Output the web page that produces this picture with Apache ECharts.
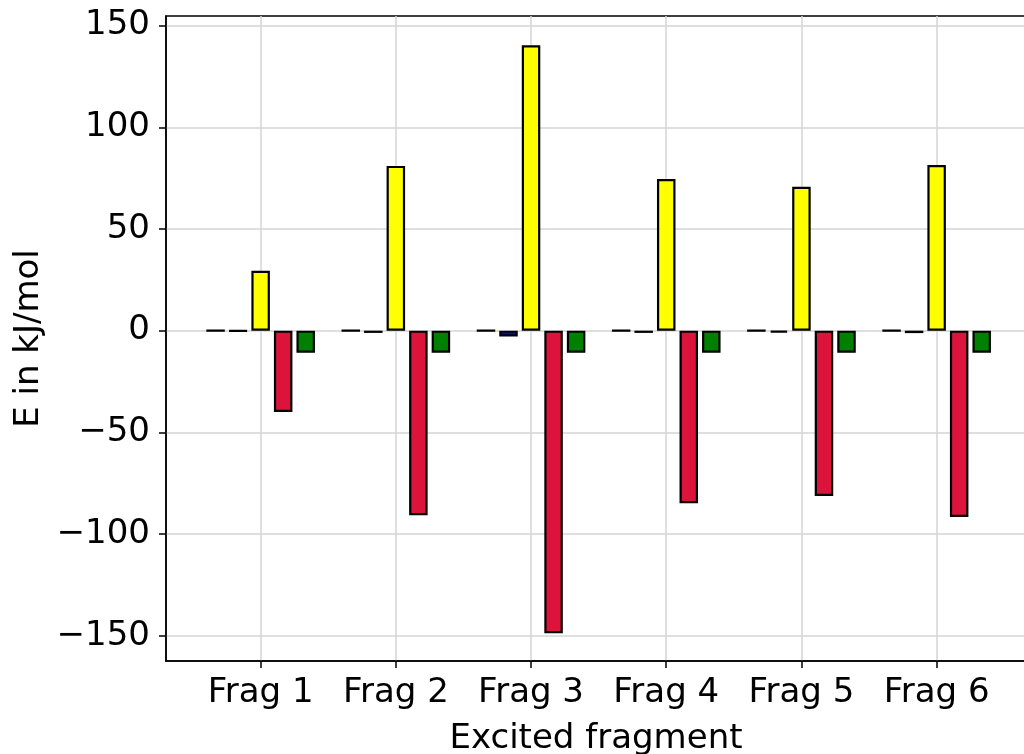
<!DOCTYPE html>
<html>
<head>
<meta charset="utf-8">
<script src="https://cdn.jsdelivr.net/npm/echarts@6/dist/echarts.min.js"></script>
<style>
  html, body { margin: 0; padding: 0; background: #ffffff; }
  #chart { width: 1024px; height: 754px; }
</style>
</head>
<body>
<div id="chart"></div>
<script>
// Energy contributions (kJ/mol) per excited fragment
const fragments = ['Frag 1', 'Frag 2', 'Frag 3', 'Frag 4', 'Frag 5', 'Frag 6'];
const termA = [0, 0, 0, 0, 0, 0];
const termB = [-0.2, -1.1, -2.9, -1.1, -1.0, -1.2];
const termC = [29.4, 81.0, 140.3, 74.6, 70.7, 81.4];
const termD = [-40.0, -90.7, -148.7, -84.8, -81.3, -91.6];
const termE = [-10.8, -10.8, -10.8, -10.8, -10.8, -10.8];
const yTicks = [-150, -100, -50, 0, 50, 100, 150];

const seriesValues = [termA, termB, termC, termD, termE];
const seriesColors = ['#808080', '#0000ff', '#ffff00', '#dc143c', '#008000'];
const groupStep = 1 / 6;      // spacing between bars inside a group (axis units)
const font = 'DejaVu Sans';
const fontSize = 34;

const series = seriesValues.map((vals, s) => ({
  type: 'bar',
  barWidth: 18.5,
  barGap: '-100%',
  itemStyle: { color: seriesColors[s], borderColor: '#000', borderWidth: 2.2 },
  data: vals.map((v, i) => [i + (s - 2) * groupStep, v]),
  animation: false
}));

const chart = echarts.init(document.getElementById('chart'));
chart.setOption({
  backgroundColor: '#ffffff',
  grid: {
    left: 166, top: 16, right: -2, bottom: 93,
    outerBoundsMode: 'none',
    containLabel: false,
    show: true, borderColor: '#000', borderWidth: 1.5, backgroundColor: 'transparent'
  },
  xAxis: {
    type: 'value',
    min: -0.7,
    max: 5.661,
    name: 'Excited fragment',
    nameLocation: 'middle',
    nameGap: 61,
    nameTextStyle: { fontFamily: font, fontSize: fontSize, color: '#000' },
    axisLine: { show: true, onZero: false, lineStyle: { color: '#000', width: 1.5 } },
    axisTick: { show: true, length: 7, lineStyle: { color: '#000', width: 1.5 },
      customValues: fragments.map((_, i) => i) },
    axisLabel: {
      customValues: fragments.map((_, i) => i),
      formatter: v => fragments[Math.round(v)],
      fontFamily: font, fontSize: fontSize, color: '#000', margin: 15
    },
    splitLine: { show: true, lineStyle: { color: '#d4d4d4', width: 1.5 } }
  },
  yAxis: {
    type: 'value',
    min: -162.4,
    max: 154.7,
    name: 'E in kJ/mol',
    nameLocation: 'middle',
    nameGap: 118,
    nameRotate: 90,
    nameTextStyle: { fontFamily: font, fontSize: fontSize, color: '#000' },
    axisLine: { show: true, onZero: false, lineStyle: { color: '#000', width: 1.5 } },
    axisTick: { show: true, length: 7, lineStyle: { color: '#000', width: 1.5 }, customValues: yTicks },
    axisLabel: {
      customValues: yTicks,
      formatter: v => String(v).replace('-', '\u2212'),
      fontFamily: font, fontSize: fontSize, color: '#000', margin: 16
    },
    splitLine: { show: true, lineStyle: { color: '#d4d4d4', width: 1.5 } }
  },
  series: series
});
</script>
</body>
</html>
